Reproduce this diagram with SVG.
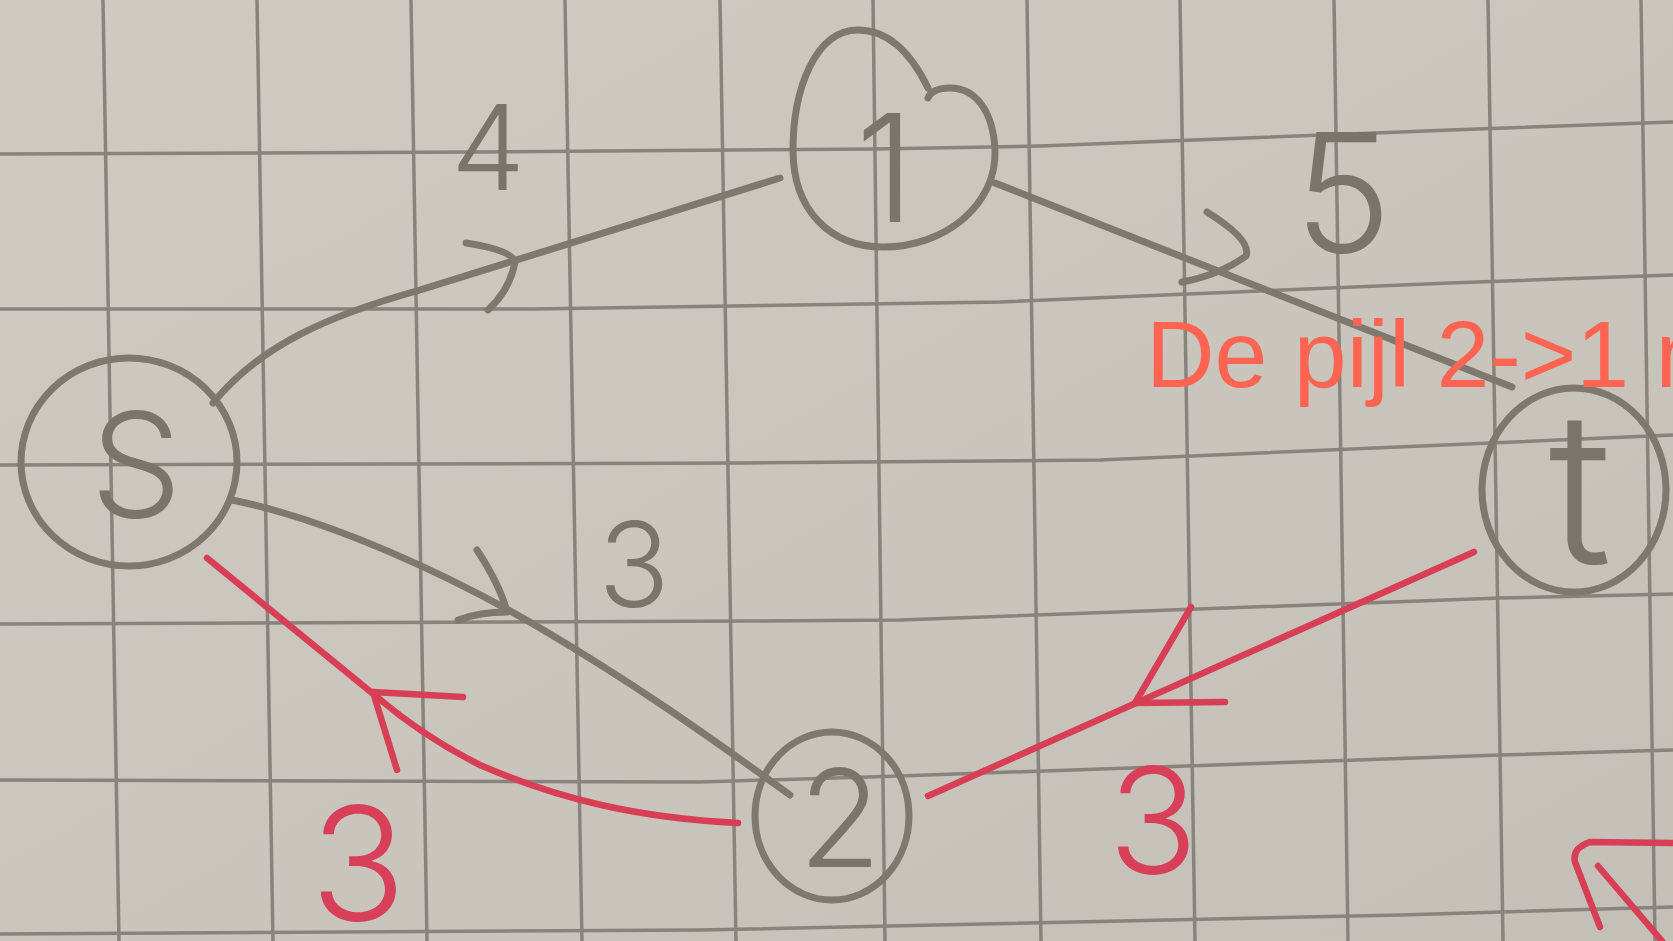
<svg xmlns="http://www.w3.org/2000/svg" width="1673" height="941" viewBox="0 0 1673 941">
  <defs>
    <linearGradient id="paper" x1="0" y1="0" x2="1" y2="1">
      <stop offset="0" stop-color="#cec9c1"/>
      <stop offset="0.5" stop-color="#cac5bd"/>
      <stop offset="1" stop-color="#c4bfb7"/>
    </linearGradient>
    <style>
      .grid { fill: none; stroke: #88837c; stroke-width: 3.5; }
      .pen { fill: none; stroke: #7e786f; stroke-width: 7; stroke-linecap: round; stroke-linejoin: round; }
      .ink { fill: none; stroke: #d83e56; stroke-width: 6.5; stroke-linecap: round; stroke-linejoin: round; }
      .lbl { font-family: Inter, "DejaVu Sans", "Liberation Sans", sans-serif; font-weight: 300; fill: #7a746b; text-anchor: middle; }
      .rlbl { font-family: Inter, "DejaVu Sans", "Liberation Sans", sans-serif; font-weight: 300; fill: #d8405a; text-anchor: middle; }
      .note { font-family: "Liberation Sans", Arial, sans-serif; font-size: 95px; fill: #fe6451; }
    </style>
  </defs>

  <rect x="0" y="0" width="1673" height="941" fill="url(#paper)"/>

  <g id="grid">
    <line class="grid" x1="103" y1="0" x2="119" y2="941"/>
    <line class="grid" x1="257" y1="0" x2="273" y2="941"/>
    <line class="grid" x1="411" y1="0" x2="427" y2="941"/>
    <line class="grid" x1="565" y1="0" x2="582" y2="941"/>
    <line class="grid" x1="720" y1="0" x2="736" y2="941"/>
    <line class="grid" x1="873" y1="0" x2="885" y2="941"/>
    <line class="grid" x1="1027" y1="0" x2="1041" y2="941"/>
    <line class="grid" x1="1180" y1="0" x2="1195" y2="941"/>
    <line class="grid" x1="1334" y1="0" x2="1348" y2="941"/>
    <line class="grid" x1="1488" y1="0" x2="1503" y2="941"/>
    <line class="grid" x1="1641" y1="0" x2="1655" y2="941"/>
    <polyline class="grid" points="0,154 480,152 875,149 1040,146 1376,133 1450,130 1673,122"/>
    <polyline class="grid" points="0,309 533,309 1000,302 1450,283 1673,275"/>
    <polyline class="grid" points="0,465 747,463 1100,460 1673,435"/>
    <polyline class="grid" points="0,624 747,621 900,620 1500,598 1673,594"/>
    <polyline class="grid" points="0,780 700,782 900,776 1500,755 1673,750"/>
    <polyline class="grid" points="0,934 700,930 1400,915 1673,907"/>
  </g>

  <g id="connectors">
    <g id="edge-s-1">
      <path class="pen" d="M 213 403 C 260 345, 330 315, 420 290 L 780 178"/>
      <path class="pen" d="M 466 243 Q 512 250 515 262 Q 510 290 488 310"/>
      <text class="lbl" x="488" y="190" font-size="118">4</text>
    </g>
    <g id="edge-1-t">
      <path class="pen" d="M 995 183 L 1512 387"/>
      <path class="pen" d="M 1207 212 Q 1252 240 1246 256 Q 1220 275 1182 282"/>
      <text class="lbl" x="1343" y="252" font-size="165">5</text>
    </g>
    <g id="edge-s-2">
      <path class="pen" d="M 232 500 C 330 520, 450 575, 540 628 S 700 730, 790 795"/>
      <path class="pen" d="M 477 550 Q 500 585 507 612 Q 480 612 458 620"/>
      <text class="lbl" x="634" y="607" font-size="118">3</text>
    </g>
    <g id="edge-2-s">
      <path class="ink" d="M 738 823 C 640 818, 560 800, 480 765 C 440 745, 410 725, 377 697 L 207 558"/>
      <path class="ink" d="M 463 697 L 373 692 L 397 770"/>
      <text class="rlbl" x="358" y="920" font-size="158">3</text>
    </g>
    <g id="edge-t-2">
      <path class="ink" d="M 1474 552 L 928 796"/>
      <path class="ink" d="M 1191 607 L 1135 703 L 1225 702"/>
      <text class="rlbl" x="1153" y="874" font-size="148">3</text>
    </g>
    <g id="edge-partial">
      <path class="ink" d="M 1673 843 L 1590 842 Q 1572 848 1575 862 L 1600 927"/>
      <path class="ink" d="M 1598 866 L 1662 941"/>
    </g>
  </g>

  <g id="node-1">
    <path class="pen" d="M 928 88 C 912 55, 890 30, 858 30 C 815 30, 793 90, 793 150 C 793 210, 830 247, 883 247 C 945 247, 997 205, 995 150 C 993 110, 975 88, 950 88 C 938 88, 930 92, 928 98"/>
    <text class="lbl" x="885" y="222" font-size="150">1</text>
  </g>

  <g id="node-s">
    <ellipse class="pen" cx="129" cy="462" rx="108" ry="104"/>
    <text class="lbl" x="136" y="517" font-size="145">S</text>
  </g>

  <g id="node-2">
    <ellipse class="pen" cx="832" cy="816" rx="77" ry="84"/>
    <text class="lbl" x="840" y="867" font-size="135">2</text>
  </g>

  <g id="node-t">
    <ellipse class="pen" cx="1574" cy="490" rx="92" ry="102"/>
    <text class="lbl" x="1580" y="564" font-size="212">t</text>
  </g>

  <text class="note" x="1146" y="387">De pijl 2-&gt;1 m</text>
</svg>
